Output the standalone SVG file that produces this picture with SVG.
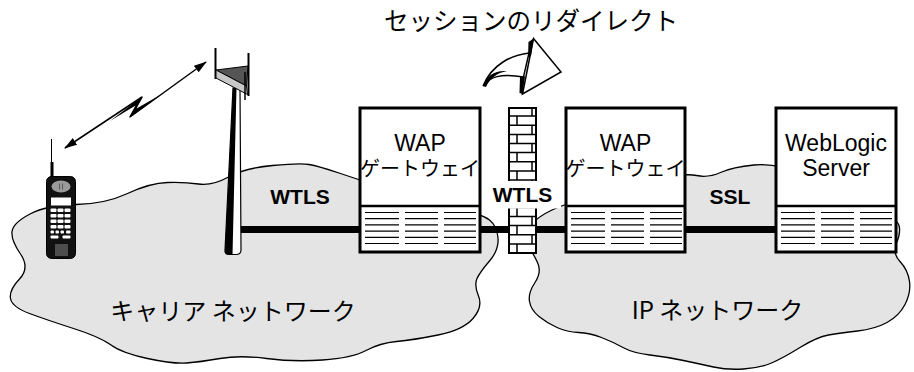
<svg xmlns="http://www.w3.org/2000/svg" xmlns:xlink="http://www.w3.org/1999/xlink" width="914" height="372" viewBox="0 0 914 372">
  <style>
    .cloud { fill: #e4e4e4; stroke: #000; stroke-width: 1.3; }
    .box { fill: #fff; stroke: #000; stroke-width: 3; }
    .divider { stroke: #000; stroke-width: 2.5; }
    .rack { stroke: #000; stroke-width: 1.2; fill: none; }
    .link { stroke: #000; stroke-width: 7; fill: none; }
    .radio { stroke: #000; stroke-width: 1.5; fill: none; }
    .lat { font-family: "Liberation Sans", Arial, sans-serif; fill: #000; }
    .jp { font-family: "Noto Sans CJK JP", sans-serif; fill: #000; }
    .name { font-size: 23px; text-anchor: middle; }
    .kana { font-size: 20px; text-anchor: middle; }
    .proto { font-size: 21px; font-weight: bold; text-anchor: middle; }
    .net { font-size: 24px; text-anchor: middle; }
    .key { fill: #fff; }
  </style>
  <defs>
    <!-- ruled panel in the lower part of each server box, relative to the box's left edge -->
    <path id="rack" class="rack" d="M6,212.5H40M46,212.5H79M85,212.5H117
      M6,218.7H40M46,218.7H79M85,218.7H117
      M6,224.9H40M46,224.9H79M85,224.9H117
      M6,231.1H40M46,231.1H79M85,231.1H117
      M6,237.3H40M46,237.3H79M85,237.3H117
      M6,243.5H40M46,243.5H79M85,243.5H117"/>
    <marker id="head" viewBox="0 0 13 8" refX="12" refY="4" markerWidth="13" markerHeight="8" markerUnits="userSpaceOnUse" orient="auto-start-reverse">
      <path d="M0,0L13,4L0,8Z" fill="#000"/>
    </marker>
  </defs>

  <!-- network clouds -->
  <g id="carrier-network">
    <path class="cloud" d="M12,231.5 Q13,223 30,214 Q47,205 76,204.5 Q105,204 127.5,193.5 Q150,183 167.5,182.5 Q185,182 198.5,184 Q212,186 228.5,177 Q245,168 272.5,165.5 Q300,163 309,164.5 Q318,166 339,173 Q360,180 390,190 Q420,200 451,207 Q482,214 489.5,220 Q497,226 498,238 Q499,250 489.5,261 Q480,272 477,278.5 Q474,285 478.5,296 Q483,307 473,318.5 Q463,330 438,335 Q413,340 396.5,341.5 Q380,343 366,350.5 Q352,358 322.5,360 Q293,362 266.5,358.5 Q240,355 220,358.5 Q200,362 186.5,363 Q173,364 147.5,358.5 Q122,353 111,345 Q100,337 73.5,328.5 Q47,320 29.5,313.5 Q12,307 10.5,298.5 Q9,290 19.5,279 Q30,268 20.5,254 Q11,240 12,231.5 Z"/>
    <text class="jp net" x="233" y="320">キャリア ネットワーク</text>
  </g>
  <g id="ip-network">
    <path class="cloud" d="M527.5,244.5 Q522,236 529.5,226.5 Q537,217 551,210.5 Q565,204 595,194.5 Q625,185 655,179 Q685,173 696.5,175.5 Q708,178 720.5,172.5 Q733,167 754,165 Q775,163 807.5,174 Q840,185 868.5,201.5 Q897,218 899,225.5 Q901,233 896.5,243 Q892,253 900,261.5 Q908,270 909.5,281.5 Q911,293 905,304.5 Q899,316 887,322.5 Q875,329 857.5,331 Q840,333 828.5,335 Q817,337 800,347.5 Q783,358 771.5,363 Q760,368 743.5,369 Q727,370 713.5,367 Q700,364 683.5,360.5 Q667,357 650,355 Q633,353 623,347.5 Q613,342 601.5,337.5 Q590,333 578.5,332.5 Q567,332 557,327.5 Q547,323 539,316.5 Q531,310 529.5,301.5 Q528,293 535,282.5 Q542,272 537.5,262.5 Q533,253 527.5,244.5 Z"/>
    <text class="jp net" x="717.5" y="319">IP ネットワーク</text>
  </g>

  <!-- links -->
  <g id="connectors">
    <path class="link" d="M240,229.5H359M481,229.5H565M686,229.5H775"/>
    <path class="radio" d="M65,148L142,97L130,117L206,62" marker-start="url(#head)" marker-end="url(#head)"/>
    <path d="M110,121L143,96L136.5,108.5L162,94L129,118L135.5,105.5Z" fill="#000"/>
    <text class="lat proto" x="300" y="204">WTLS</text>
    <text class="lat proto" x="730" y="204">SSL</text>
  </g>

  <!-- handset -->
  <g id="phone">
    <line x1="51.5" y1="139" x2="51.5" y2="165" stroke="#000" stroke-width="1"/>
    <rect x="50.5" y="162" width="3" height="16" fill="#000"/>
    <rect x="46.5" y="176.5" width="29" height="82" rx="5" fill="#111" stroke="#000"/>
    <ellipse cx="61" cy="186.5" rx="9.5" ry="6" fill="#9a9a9a"/>
    <path d="M59.5,183.5v6M62.5,183.5v6" stroke="#5a5a5a" stroke-width="1"/>
    <rect x="51" y="197.5" width="20" height="8" fill="#fff"/>
    <rect class="key" x="50.5" y="208.5" width="6" height="3.5" rx="1"/>
    <rect class="key" x="57.5" y="208.5" width="6" height="3.5" rx="1"/>
    <rect class="key" x="64.5" y="208.5" width="6" height="3.5" rx="1"/>
    <rect class="key" x="50.5" y="214" width="6" height="3.5" rx="1"/>
    <rect class="key" x="57.5" y="214" width="6" height="3.5" rx="1"/>
    <rect class="key" x="64.5" y="214" width="6" height="3.5" rx="1"/>
    <rect class="key" x="50.5" y="219.5" width="6" height="3.5" rx="1"/>
    <rect class="key" x="57.5" y="219.5" width="6" height="3.5" rx="1"/>
    <rect class="key" x="64.5" y="219.5" width="6" height="3.5" rx="1"/>
    <rect class="key" x="50.5" y="225" width="6" height="3.5" rx="1"/>
    <rect class="key" x="57.5" y="225" width="6" height="3.5" rx="1"/>
    <rect class="key" x="64.5" y="225" width="6" height="3.5" rx="1"/>
    <rect class="key" x="50.5" y="230.5" width="3.5" height="3" rx="1"/>
    <rect class="key" x="55.5" y="230.5" width="3.5" height="3" rx="1"/>
    <rect class="key" x="60.5" y="230.5" width="3.5" height="3" rx="1"/>
    <rect class="key" x="66" y="230.5" width="4.5" height="3" rx="1"/>
    <rect class="key" x="50.5" y="235.5" width="8" height="3" rx="1"/>
    <rect class="key" x="62.5" y="235.5" width="8" height="3" rx="1"/>
    <path d="M55,245H68M55,247H68M55,249H68M55,251H68M55,253H68M55,255H68" stroke="#8a8a8a" stroke-width="1"/>
  </g>

  <!-- cell tower -->
  <g id="tower">
    <path d="M233,88L240,88L241,250Q241,254.5 236,254.5L229,254.5Q224.5,254.5 225,250Z" fill="#fff" stroke="#000" stroke-width="1.2"/>
    <path d="M233,88L236.5,88L232.5,254.5L229,254.5Q224.5,254.5 225,250Z" fill="#000"/>
    <line x1="215.5" y1="48" x2="215.5" y2="79" stroke="#000" stroke-width="2"/>
    <line x1="248.5" y1="53" x2="248.5" y2="96" stroke="#000" stroke-width="2"/>
    <polygon points="216,70 248,66 246.5,86" fill="#555" stroke="#000" stroke-width="1"/>
    <polygon points="216,70 246.5,86 247.5,94.5 216,78" fill="#c8c8c8" stroke="#000" stroke-width="1"/>
    <line x1="245" y1="72" x2="245" y2="100" stroke="#000" stroke-width="1.5"/>
  </g>

  <!-- gateways and server -->
  <g id="wap-gateway-carrier">
    <rect class="box" x="360" y="108" width="120" height="144"/>
    <line class="divider" x1="360" y1="206" x2="480" y2="206"/>
    <use xlink:href="#rack" x="359"/>
    <text class="lat name" x="420" y="150.5">WAP</text>
    <text class="jp kana" x="420" y="176">ゲートウェイ</text>
  </g>
  <g id="wap-gateway-ip">
    <rect class="box" x="566" y="108" width="119" height="144"/>
    <line class="divider" x1="566" y1="206" x2="685" y2="206"/>
    <use xlink:href="#rack" x="565"/>
    <text class="lat name" x="625.5" y="150.5">WAP</text>
    <text class="jp kana" x="625.5" y="176">ゲートウェイ</text>
  </g>
  <g id="weblogic-server">
    <rect class="box" x="776" y="108" width="120" height="144"/>
    <line class="divider" x1="776" y1="206" x2="896" y2="206"/>
    <use xlink:href="#rack" x="775"/>
    <text class="lat name" x="836" y="150.5">WebLogic</text>
    <text class="lat name" x="836" y="175.5">Server</text>
  </g>

  <!-- firewall -->
  <g id="firewall">
    <rect x="509" y="108" width="27" height="145" fill="#fff" stroke="#000" stroke-width="2"/>
    <path stroke="#000" stroke-width="1.5" fill="none" d="M509,116.1H536M509,125.25H536M509,134.4H536M509,143.5H536M509,152.6H536M509,161.75H536M509,170.9H536M509,180H536M509,189.1H536M509,198.25H536M509,207.4H536M509,216.5H536M509,225.6H536M509,234.75H536M509,243.9H536
      M532,108V116.1M517,116.1V125.25M532,125.25V134.4M517,134.4V143.5M532,143.5V152.6M517,152.6V161.75M532,161.75V170.9M517,170.9V180M532,180V189.1M517,189.1V198.25M532,198.25V207.4M517,207.4V216.5M532,216.5V225.6M517,225.6V234.75M532,234.75V243.9M517,243.9V253"/>
    <rect x="489" y="181" width="72" height="27.5" fill="#fff"/>
    <text class="lat proto" x="522.5" y="202">WTLS</text>
  </g>

  <!-- session redirect -->
  <g id="redirect">
    <path d="M529,53C512,55 492,64 483,86C490,77 500,73 523.5,77Z" fill="#fff" stroke="#000" stroke-width="1.5"/>
    <path d="M483,86C487,75 495,70 507,71C497,73 490,78 486,87Z" fill="#000"/>
    <polygon points="533.5,38.5 561,72 522.5,94" fill="#fff" stroke="#000" stroke-width="1.5"/>
    <polygon points="528.5,42 533.5,38.5 531,56 528,57" fill="#000"/>
    <polygon points="520,76.5 525,76.5 522.5,94 519.5,93" fill="#000"/>
    <text class="jp" x="531" y="29.5" font-size="24.5" text-anchor="middle">セッションのリダイレクト</text>
  </g>
</svg>
